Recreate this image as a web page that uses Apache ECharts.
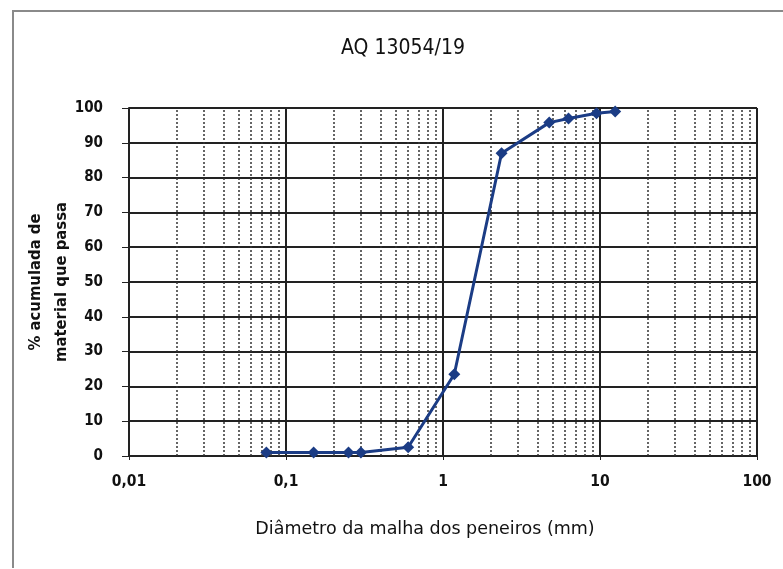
<!DOCTYPE html>
<html>
<head>
<meta charset="utf-8">
<script src="https://cdn.jsdelivr.net/npm/echarts@6/dist/echarts.min.js"></script>
<style>
html,body{margin:0;padding:0;background:#fff;}
#frame{position:absolute;left:12px;top:10px;width:790px;height:556px;border-left:2px solid #8a8a8a;border-top:2px solid #8a8a8a;}
#c{position:absolute;left:0;top:0;width:783px;height:569px;}
</style>
</head>
<body>
<div id="frame"></div>
<div id="c"></div>
<script>
const titleText = "AQ 13054/19";
const xName = "Diâmetro da malha dos peneiros (mm)";
const yName = "% acumulada de\nmaterial que passa";
const sieveSizes = [0.075, 0.15, 0.25, 0.3, 0.6, 1.18, 2.36, 4.75, 6.3, 9.5, 12.5];
const passing = [1, 1, 1, 1, 2.5, 23.5, 87, 95.8, 97, 98.5, 99];
const decades = [0.01, 0.1, 1, 10];
const minorMultipliers = [2, 3, 4, 5, 6, 7, 8, 9];

const minorLines = [];
decades.forEach(d => minorMultipliers.forEach(m => minorLines.push({xAxis: +(d * m).toPrecision(3)})));

const font = '"DejaVu Sans Condensed", "Liberation Sans Narrow", "Liberation Sans", Arial, sans-serif';
const chart = echarts.init(document.getElementById('c'));
chart.setOption({
  backgroundColor: 'transparent',
  animation: false,
  title: {
    text: titleText, left: 398, top: 33, textAlign: 'center',
    textStyle: {fontFamily: font, fontSize: 21, fontWeight: 'normal', color: '#111'}
  },
  grid: {left: 129, right: 26, top: 108, bottom: 113, containLabel: false, outerBoundsMode: 'none'},
  xAxis: {
    type: 'log', logBase: 10, min: 0.01, max: 100,
    name: xName, nameLocation: 'middle', nameGap: 64,
    nameTextStyle: {fontFamily: '"DejaVu Sans", sans-serif', fontSize: 17.5, color: '#111', padding: [0, 36, 0, 0]},
    axisLine: {lineStyle: {color: '#222', width: 2}},
    axisTick: {show: true, inside: false, length: 4, lineStyle: {color: '#222'}},
    axisLabel: {fontFamily: font, fontSize: 15.5, fontWeight: 'bold', color: '#111', margin: 18,
      formatter: v => String(v).replace('.', ',')},
    splitLine: {show: true, lineStyle: {color: '#222', width: 2}}
  },
  yAxis: {
    type: 'value', min: 0, max: 100, interval: 10,
    name: yName, nameLocation: 'middle', nameGap: 54, nameRotate: 90, nameMoveOverlap: false,
    nameTextStyle: {fontFamily: font, fontSize: 16.5, fontWeight: 'bold', color: '#111', lineHeight: 26},
    axisLine: {show: true, lineStyle: {color: '#222', width: 2}},
    axisTick: {show: true, inside: false, length: 7, lineStyle: {color: '#222'}},
    axisLabel: {fontFamily: font, fontSize: 15, fontWeight: 'bold', color: '#111', margin: 26},
    splitLine: {show: true, lineStyle: {color: '#222', width: 2}}
  },
  series: [{
    type: 'line',
    data: sieveSizes.map((x, i) => [x, passing[i]]),
    symbol: 'diamond', symbolSize: 12,
    lineStyle: {color: '#1b3c85', width: 3},
    itemStyle: {color: '#1b3c85'},
    z: 5,
    markLine: {
      silent: true, symbol: ['none', 'none'], label: {show: false},
      lineStyle: {color: '#333', type: [2, 2], width: 1.5},
      data: minorLines, z: 1
    }
  }]
});
</script>
</body>
</html>
